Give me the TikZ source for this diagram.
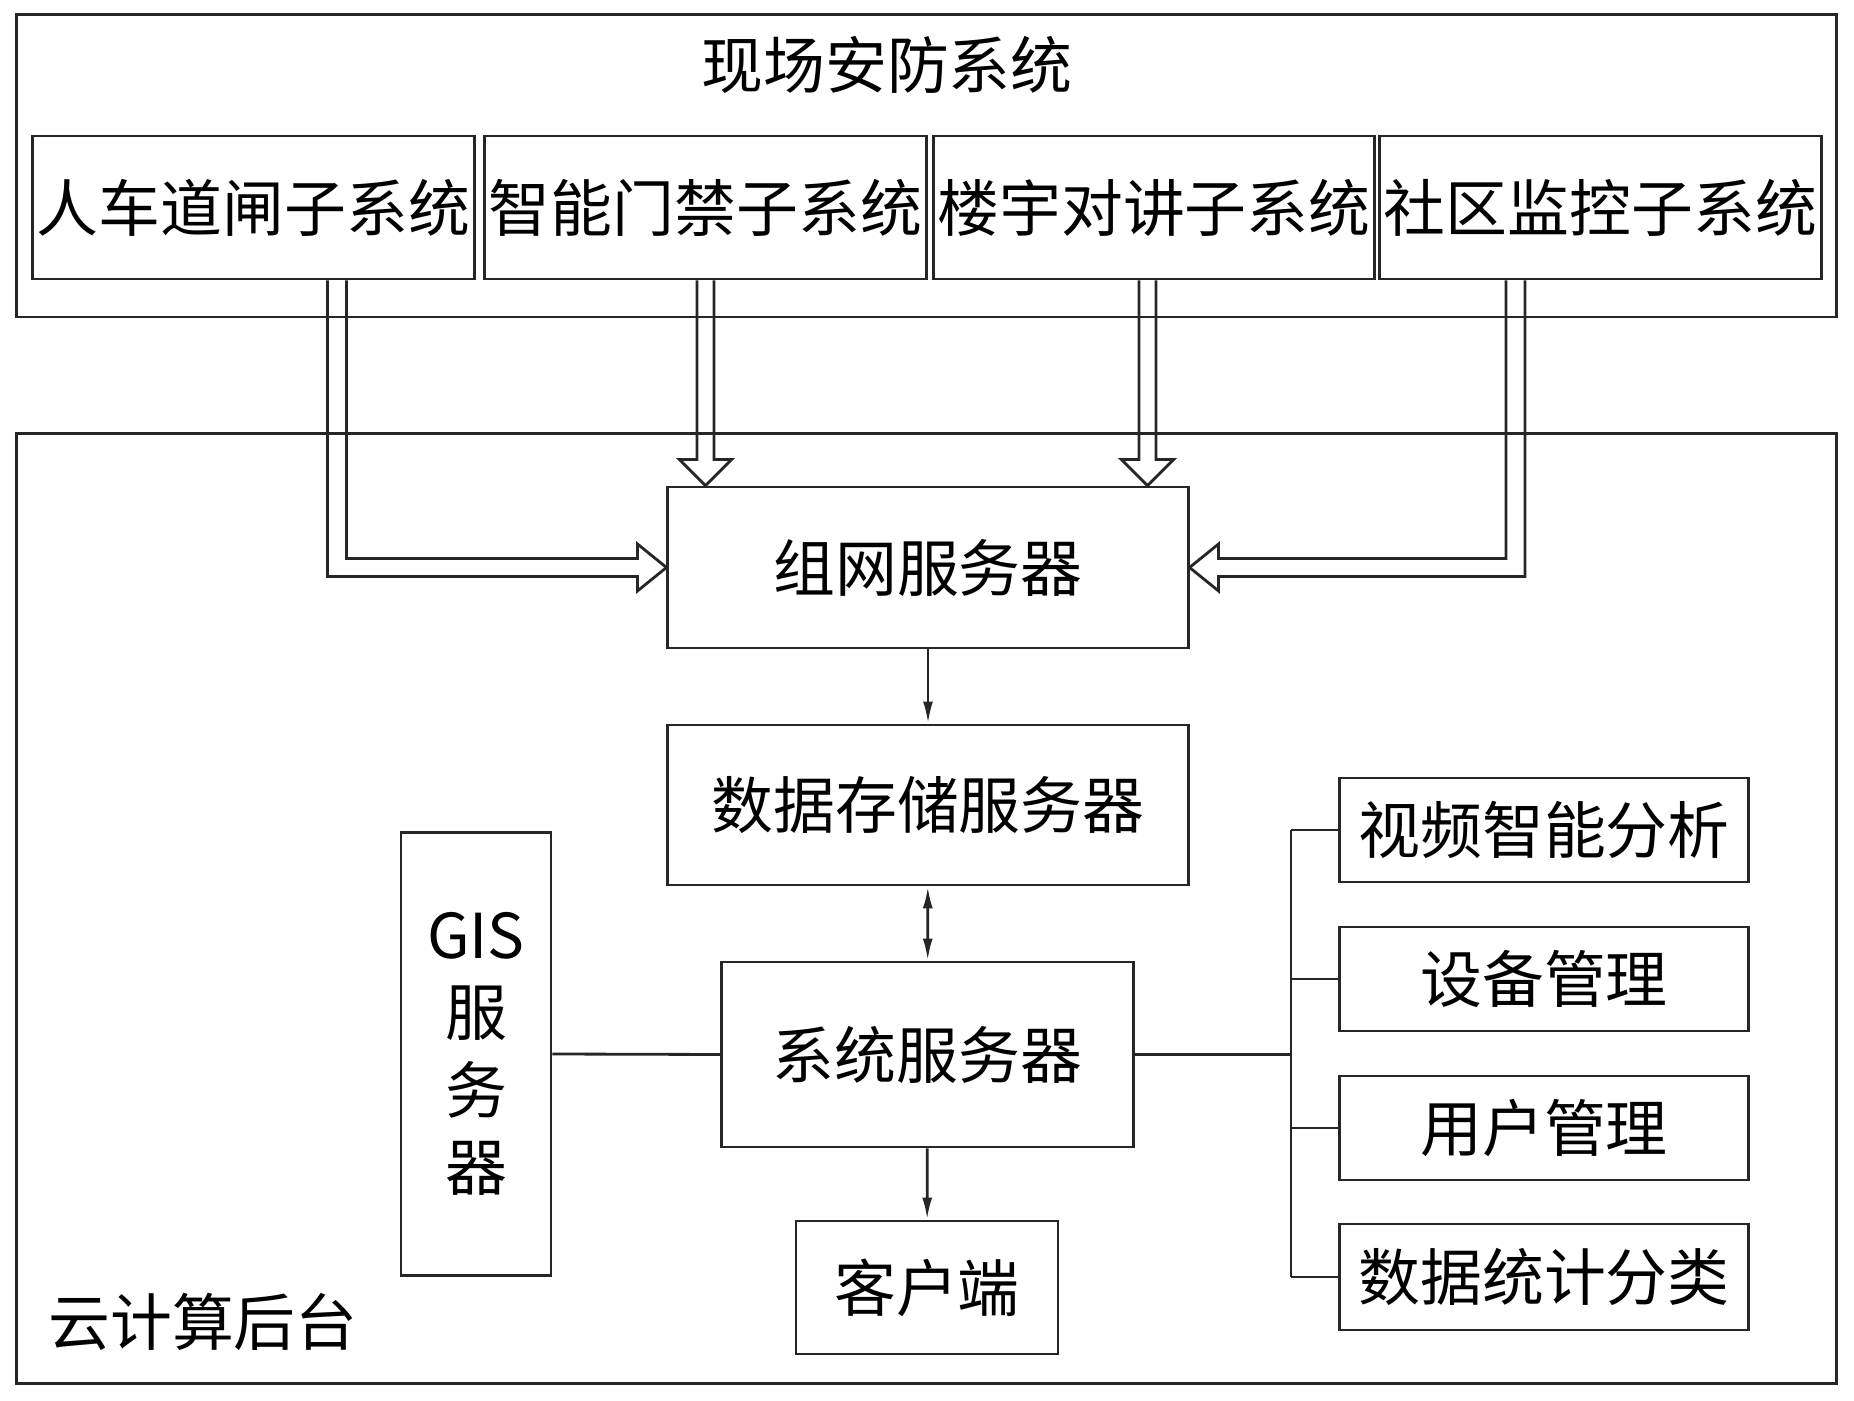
\documentclass[tikz,border=0pt]{standalone}
\usepackage{fontspec}
\setmainfont{Noto Sans CJK SC}
\usetikzlibrary{arrows.meta, calc}

\begin{document}
\begin{tikzpicture}[
    x=0.01cm, y=-0.01cm,
    every node/.style={font=\fontsize{17.6pt}{22pt}\selectfont},
    frame/.style={rectangle, draw=black!85, line width=0.8pt, inner sep=0pt},
    box/.style={rectangle, draw=black!85, line width=0.8pt, inner sep=0pt, align=center},
    hollow/.style={draw=black!85, line width=0.8pt, line join=miter},
    arrow/.style={-{Latex[length=0.22cm, width=0.1cm]}, line width=0.8pt, draw=black!85},
    link/.style={line width=0.8pt, draw=black!85}
]
\useasboundingbox (0,0) rectangle (1854,1401);

% Frames
\node[frame, minimum width=18.19cm, minimum height=3.02cm] (site) at (926.5,166) {};
\node (sitetitle) at (887,65) {现场安防系统};
\node[frame, minimum width=18.19cm, minimum height=9.49cm] (cloud) at (926.5,908.5) {};
\node (cloudtitle) at (203,1322) {云计算后台};

% Subsystems
\node[box, minimum width=4.42cm, minimum height=1.43cm] (gate) at (253.5,207.5) {人车道闸子系统};
\node[box, minimum width=4.42cm, minimum height=1.43cm] (door) at (705.5,207.5) {智能门禁子系统};
\node[box, minimum width=4.40cm, minimum height=1.43cm] (talk) at (1154,207.5) {楼宇对讲子系统};
\node[box, minimum width=4.41cm, minimum height=1.43cm] (cctv) at (1600.5,207.5) {社区监控子系统};

% Servers
\node[box, minimum width=5.20cm, minimum height=1.61cm] (net) at (928,567.5) {组网服务器};
\node[box, minimum width=5.20cm, minimum height=1.60cm] (store) at (928,805) {数据存储服务器};
\node[box, minimum width=4.11cm, minimum height=1.85cm] (sys) at (927.5,1054.5) {系统服务器};
\node[box, minimum width=2.62cm, minimum height=1.33cm] (client) at (927,1287.5) {客户端};
\node[box, minimum width=1.50cm, minimum height=4.42cm] (gis) at (476,1054) {GIS\\服\\务\\器};

% Functions
\node[box, minimum width=4.08cm, minimum height=1.04cm] (video) at (1544,830) {视频智能分析};
\node[box, minimum width=4.08cm, minimum height=1.04cm] (device) at (1544,979) {设备管理};
\node[box, minimum width=4.08cm, minimum height=1.04cm] (user) at (1544,1128) {用户管理};
\node[box, minimum width=4.08cm, minimum height=1.06cm] (stats) at (1544,1277) {数据统计分类};
\coordinate (bus) at (1291,1054.5);

% Hollow arrows into the network server
\draw[hollow] ($(gate.south)+(74,0)$) |- ($(net.west)+(-29,9)$) -- ++(0,14.5) -- (net.west)
    -- ++(-29,-23.5) -- ++(0,14.5) -| ($(gate.south)+(93,0)$);
\draw[hollow] ($(door.south)+(-8.5,0)$) -- ($(door.south|-net.north)+(-8.5,-26)$) -- ++(-17.5,0)
    -- (door.south|-net.north) -- ++(26,-26) -- ++(-17.5,0) -- ($(door.south)+(8.5,0)$);
\draw[hollow] ($(talk.south)+(-15,0)$) -- ($(talk.south|-net.north)+(-15,-26)$) -- ++(-17.5,0)
    -- ($(talk.south|-net.north)+(-6.5,0)$) -- ++(26,-26) -- ++(-17.5,0) -- ($(talk.south)+(2,0)$);
\draw[hollow] ($(cctv.south)+(-75.5,0)$) |- ($(net.east)+(29,9)$) -- ++(0,14.5) -- (net.east)
    -- ++(29,-23.5) -- ++(0,14.5) -| ($(cctv.south)+(-94.5,0)$);

% Paths
\draw[arrow] (net) -- (store);
\draw[arrow, {Latex[length=0.22cm, width=0.1cm]}-{Latex[length=0.22cm, width=0.1cm]}] (store) -- (sys);
\draw[arrow] (sys) -- (client);
\draw[link] (gis.east) -- (sys.west);
\draw[link] (sys.east) -- (bus);
\draw[link] (bus |- video.west) -- (bus |- stats.west);
\foreach \n in {video, device, user, stats}
    \draw[link] (bus |- \n.west) -- (\n.west);

\end{tikzpicture}
\end{document}
